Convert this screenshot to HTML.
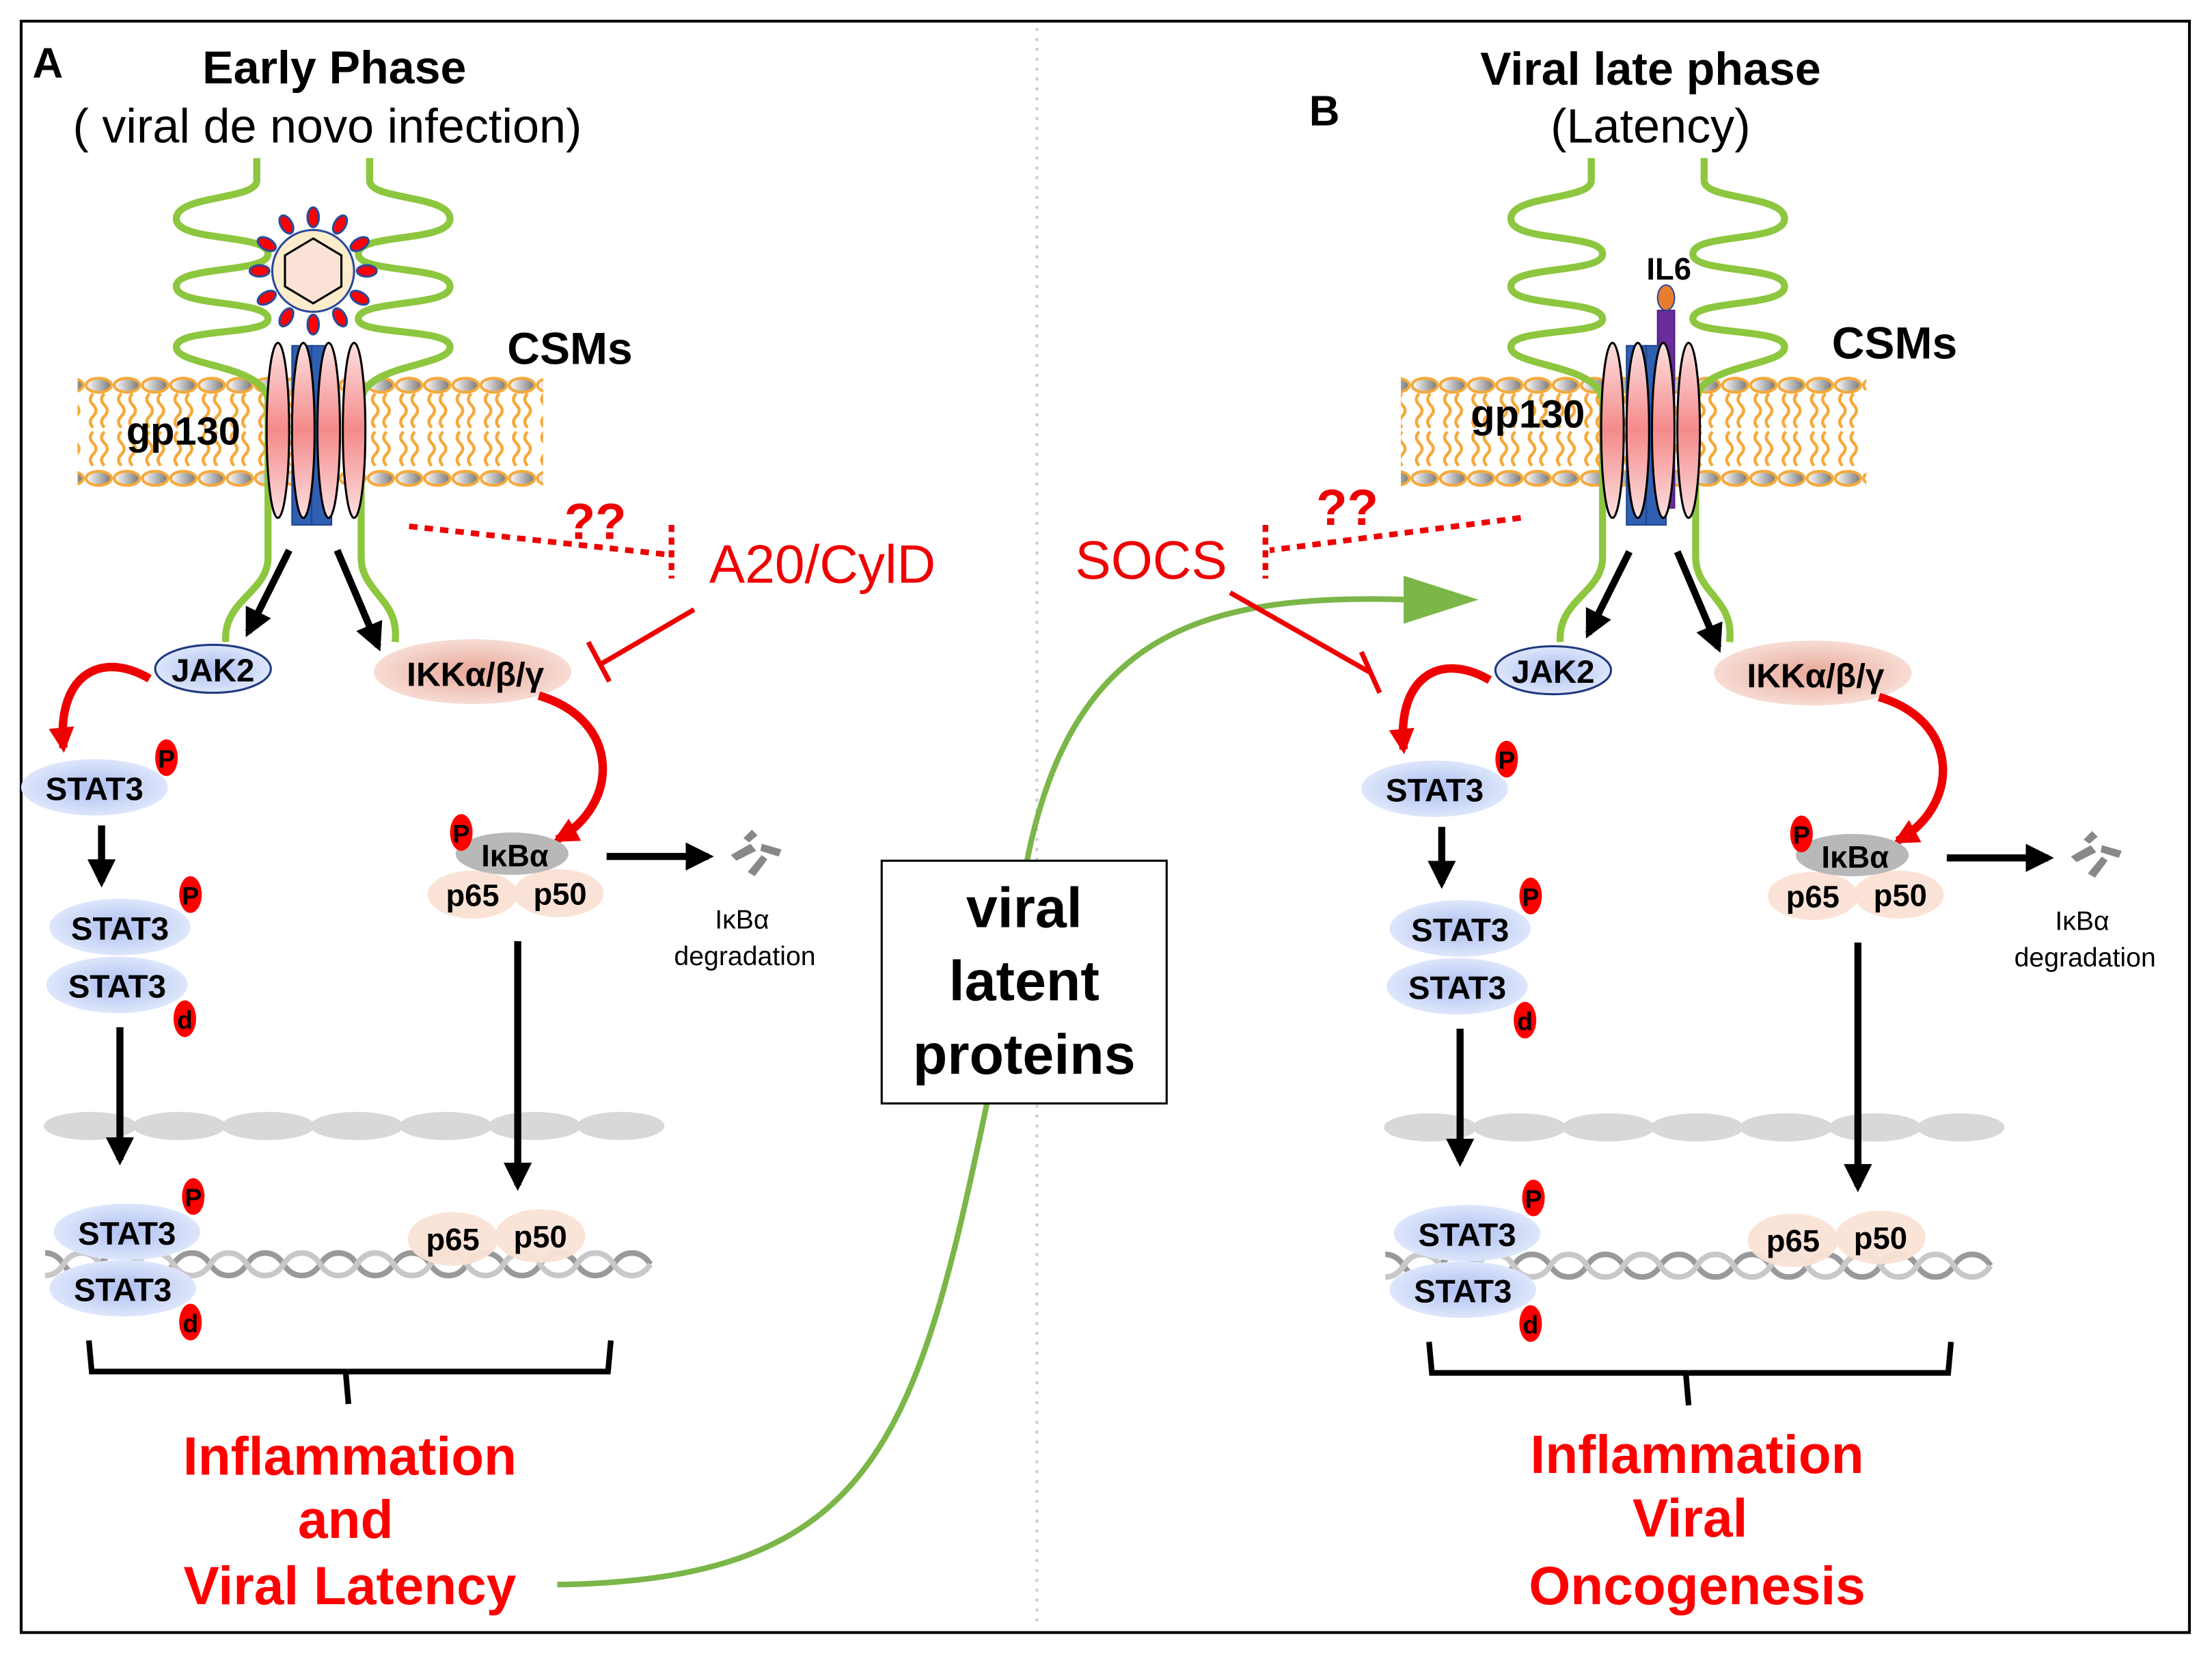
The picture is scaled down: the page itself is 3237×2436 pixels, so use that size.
<!DOCTYPE html>
<html><head><meta charset="utf-8"><style>html,body{margin:0;padding:0;background:#fff}svg{display:block}</style></head>
<body>
<svg width="3237" height="2436" viewBox="0 0 1568 1180" xmlns="http://www.w3.org/2000/svg" font-family="Liberation Sans, Arial, sans-serif">
<defs>
<linearGradient id="head" x1="0" x2="1"><stop offset="0" stop-color="#fff"/><stop offset="1" stop-color="#777"/></linearGradient>
<pattern id="mem" x="0" y="266" width="20" height="80" patternUnits="userSpaceOnUse">
<ellipse cx="10" cy="7" rx="9" ry="5" fill="url(#head)" stroke="#f5a93a" stroke-width="2"/>
<ellipse cx="10" cy="73" rx="9" ry="5" fill="url(#head)" stroke="#f5a93a" stroke-width="2"/>
<path d="M6,13 q-4,4 0,8 q4,4 0,8 q-4,4 0,8 M14,13 q-4,4 0,8 q4,4 0,8 q-4,4 0,8 M6,40 q-4,4 0,8 q4,4 0,8 q-4,4 0,8 M14,40 q-4,4 0,8 q4,4 0,8 q-4,4 0,8" fill="none" stroke="#f5a93a" stroke-width="2.2"/>
</pattern>
<radialGradient id="blue"><stop offset="0" stop-color="#aebff0"/><stop offset="1" stop-color="#dde6fb"/></radialGradient>
<radialGradient id="pinkg"><stop offset="0" stop-color="#e8a898"/><stop offset="1" stop-color="#f7dcd4"/></radialGradient>
<linearGradient id="recp" y1="0" y2="1" x1="0" x2="0"><stop offset="0" stop-color="#fde0e0"/><stop offset="0.5" stop-color="#f48a8a"/><stop offset="1" stop-color="#fde0e0"/></linearGradient>
<marker id="ah" viewBox="0 0 10 10" refX="8" refY="5" markerWidth="4" markerHeight="4" orient="auto"><path d="M0,0 L10,5 L0,10 z" fill="#000"/></marker>
<marker id="rah" viewBox="0 0 10 10" refX="8" refY="5" markerWidth="3" markerHeight="3" orient="auto"><path d="M0,0 L10,5 L0,10 z" fill="#e00"/></marker>

<g id="receptor">
<rect x="207" y="245" width="14" height="127" fill="#2f5fb0" stroke="#1f4590"/>
<rect x="221" y="245" width="14" height="127" fill="#2f5fb0" stroke="#1f4590"/>
<ellipse cx="197" cy="305" rx="8" ry="62" fill="url(#recp)" stroke="#000" stroke-width="1.5"/>
<ellipse cx="215" cy="305" rx="8" ry="62" fill="url(#recp)" stroke="#000" stroke-width="1.5"/>
<ellipse cx="233" cy="305" rx="8" ry="62" fill="url(#recp)" stroke="#000" stroke-width="1.5"/>
<ellipse cx="251" cy="305" rx="8" ry="62" fill="url(#recp)" stroke="#000" stroke-width="1.5"/>
</g>
<g id="greens" fill="none" stroke="#8dc63f" stroke-width="5">
<path d="M182,112 L182,128 C182,142 125,138 125,155 C125,172 190,165 190,180 C190,194 125,188 125,203 C125,218 190,212 190,226 C190,238 125,232 125,246 C125,260 190,258 190,285 L190,395 C190,420 158,425 160,455"/>
<path d="M262,112 L262,128 C262,142 319,138 319,155 C319,172 254,165 254,180 C254,194 319,188 319,203 C319,218 254,212 254,226 C254,238 319,232 319,246 C319,260 256,258 256,285 L256,395 C256,420 284,425 280,455"/>
</g>

<g id="pmark"><ellipse cx="0" cy="0" rx="8" ry="13" fill="#f00"/><text x="0" y="7" font-size="18" font-weight="bold" text-anchor="middle">P</text></g>
<g id="dmark"><ellipse cx="0" cy="0" rx="8" ry="13" fill="#f00"/><text x="0" y="7" font-size="18" font-weight="bold" text-anchor="middle">d</text></g>

<g id="lower">
<line x1="205" y1="390" x2="176" y2="448" stroke="#000" stroke-width="5" marker-end="url(#ah)"/>
<line x1="239" y1="390" x2="268" y2="458" stroke="#000" stroke-width="5" marker-end="url(#ah)"/>
<ellipse cx="151" cy="474" rx="41" ry="17" fill="url(#blue)" stroke="#203a80" stroke-width="1.5"/>
<text x="151" y="483" font-size="23" font-weight="bold" text-anchor="middle">JAK2</text>
<ellipse cx="335" cy="476" rx="70" ry="23" fill="url(#pinkg)"/>
<text x="337" y="486" font-size="24" font-weight="bold" text-anchor="middle">IKKα/β/γ</text>
<path d="M106,481 C70,460 40,480 45,530" fill="none" stroke="#e00" stroke-width="6" marker-end="url(#rah)"/>
<path d="M382,493 C440,510 440,570 395,595" fill="none" stroke="#e00" stroke-width="6" marker-end="url(#rah)"/>
<ellipse cx="67" cy="558" rx="52" ry="20" fill="url(#blue)"/>
<text x="67" y="567" font-size="23" font-weight="bold" text-anchor="middle">STAT3</text>
<use href="#pmark" x="118" y="537"/>
<line x1="72" y1="585" x2="72" y2="625" stroke="#000" stroke-width="5" marker-end="url(#ah)"/>
<ellipse cx="85" cy="657" rx="50" ry="20" fill="url(#blue)"/>
<text x="85" y="666" font-size="23" font-weight="bold" text-anchor="middle">STAT3</text>
<ellipse cx="83" cy="698" rx="50" ry="20" fill="url(#blue)"/>
<text x="83" y="707" font-size="23" font-weight="bold" text-anchor="middle">STAT3</text>
<use href="#pmark" x="135" y="634"/>
<use href="#dmark" x="131" y="722"/>
<g fill="#d8d8d8">
<ellipse cx="64" cy="798" rx="33" ry="10"/><ellipse cx="127" cy="798" rx="33" ry="10"/><ellipse cx="190" cy="798" rx="33" ry="10"/><ellipse cx="253" cy="798" rx="33" ry="10"/><ellipse cx="316" cy="798" rx="33" ry="10"/><ellipse cx="379" cy="798" rx="33" ry="10"/><ellipse cx="440" cy="798" rx="31" ry="10"/>
</g>
<line x1="85" y1="728" x2="85" y2="822" stroke="#000" stroke-width="5" marker-end="url(#ah)"/>
<ellipse cx="335" cy="634" rx="32" ry="17" fill="#fae3d6"/>
<ellipse cx="396" cy="633" rx="32" ry="17" fill="#fae3d6"/>
<ellipse cx="363" cy="605" rx="40" ry="15" fill="#b8b8b8"/>
<text x="365" y="614" font-size="22" font-weight="bold" text-anchor="middle">IκBα</text>
<text x="335" y="642" font-size="22" font-weight="bold" text-anchor="middle">p65</text>
<text x="397" y="641" font-size="22" font-weight="bold" text-anchor="middle">p50</text>
<use href="#pmark" x="327" y="590"/>
<line x1="430" y1="607" x2="502" y2="607" stroke="#000" stroke-width="5" marker-end="url(#ah)"/>
<g fill="#888"><path d="M518,606 l14,-8 l4,5 l-14,7z"/><path d="M530,618 l10,-12 l4,3 l-9,12z"/><path d="M540,598 l14,4 l-2,5 l-13,-4z"/><path d="M527,594 l6,-6 l4,4 l-6,5z"/></g>
<text x="526" y="658" font-size="19" text-anchor="middle">IκBα</text>
<text x="528" y="684" font-size="19" text-anchor="middle">degradation</text>
<line x1="367" y1="667" x2="367" y2="840" stroke="#000" stroke-width="5" marker-end="url(#ah)"/>
<g stroke="#999" stroke-width="4" fill="none">
<path d="M32,888 q8,0 13,8 t13,8 13,-8 13,-8 13,8 13,8 13,-8 13,-8 13,8 13,8 13,-8 13,-8 13,8 13,8 13,-8 13,-8 13,8 13,8 13,-8 13,-8 13,8 13,8 13,-8 13,-8 13,8 13,8 13,-8 13,-8 13,8 13,8 13,-8 13,-8 13,8"/>
<path d="M32,904 q8,0 13,-8 t13,-8 13,8 13,8 13,-8 13,-8 13,8 13,8 13,-8 13,-8 13,8 13,8 13,-8 13,-8 13,8 13,8 13,-8 13,-8 13,8 13,8 13,-8 13,-8 13,8 13,8 13,-8 13,-8 13,8 13,8 13,-8 13,-8 13,8 13,8 13,-8" stroke="#c8c8c8"/>
</g>
<ellipse cx="90" cy="873" rx="52" ry="20" fill="url(#blue)"/>
<text x="90" y="882" font-size="23" font-weight="bold" text-anchor="middle">STAT3</text>
<ellipse cx="87" cy="913" rx="52" ry="20" fill="url(#blue)"/>
<text x="87" y="922" font-size="23" font-weight="bold" text-anchor="middle">STAT3</text>
<use href="#pmark" x="137" y="848"/>
<use href="#dmark" x="135" y="937"/>
<ellipse cx="321" cy="878" rx="32" ry="19" fill="#fae3d6" opacity="0.95"/>
<ellipse cx="383" cy="876" rx="32" ry="19" fill="#fae3d6" opacity="0.95"/>
<text x="321" y="886" font-size="22" font-weight="bold" text-anchor="middle">p65</text>
<text x="383" y="884" font-size="22" font-weight="bold" text-anchor="middle">p50</text>
<path d="M63,950 L65,972 L245,972 L247,995 M247,972 L431,972 L433,950" fill="none" stroke="#000" stroke-width="4"/>
</g>
</defs>

<rect width="1568" height="1180" fill="#fff"/>
<rect x="15" y="15" width="1537" height="1142" fill="none" stroke="#000" stroke-width="2"/>
<line x1="735" y1="20" x2="735" y2="1152" stroke="#ccc" stroke-width="2" stroke-dasharray="2,5"/>

<text x="23" y="55" font-size="30" font-weight="bold">A</text>
<text x="237" y="59" font-size="33" font-weight="bold" text-anchor="middle">Early Phase</text>
<text x="232" y="101" font-size="34" text-anchor="middle">( viral de novo infection)</text>
<text x="928" y="89" font-size="30" font-weight="bold">B</text>
<text x="1170" y="60" font-size="33" font-weight="bold" text-anchor="middle">Viral late phase</text>
<text x="1170" y="101" font-size="34" text-anchor="middle">(Latency)</text>

<rect x="55" y="266" width="330" height="80" fill="url(#mem)"/>
<use href="#greens"/>
<use href="#receptor"/>
<text x="130" y="315" font-size="28" font-weight="bold" text-anchor="middle">gp130</text>
<text x="404" y="258" font-size="32" font-weight="bold" text-anchor="middle">CSMs</text>
<g transform="translate(222,192)">
<g fill="#f00" stroke="#2a4a9a" stroke-width="1.5">
<g id="sp"><ellipse cx="0" cy="-38" rx="4" ry="7"/></g>
<use href="#sp" transform="rotate(30)"/><use href="#sp" transform="rotate(60)"/><use href="#sp" transform="rotate(90)"/><use href="#sp" transform="rotate(120)"/><use href="#sp" transform="rotate(150)"/><use href="#sp" transform="rotate(180)"/><use href="#sp" transform="rotate(210)"/><use href="#sp" transform="rotate(240)"/><use href="#sp" transform="rotate(270)"/><use href="#sp" transform="rotate(300)"/><use href="#sp" transform="rotate(330)"/>
</g>
<circle r="29" fill="#fbeccc" stroke="#2a4a9a" stroke-width="1.5"/>
<polygon points="0,-23 20,-11 20,11 0,23 -20,11 -20,-11" fill="#fae3d6" stroke="#000" stroke-width="1.5"/>
</g>
<use href="#lower"/>

<rect x="993" y="266" width="330" height="80" fill="url(#mem)"/>
<g transform="translate(946,0)">
<use href="#greens"/>
<rect x="229" y="220" width="12" height="140" fill="#6a2c9a" stroke="#4a2080"/>
<ellipse cx="235" cy="211" rx="6" ry="9" fill="#e87d30" stroke="#2a4a9a"/>
<use href="#receptor"/>
</g>
<text x="1183" y="198" font-size="22" font-weight="bold" text-anchor="middle">IL6</text>
<text x="1083" y="303" font-size="28" font-weight="bold" text-anchor="middle">gp130</text>
<text x="1343" y="254" font-size="32" font-weight="bold" text-anchor="middle">CSMs</text>
<use href="#lower" transform="translate(950,1)"/>

<text x="422" y="382" font-size="36" font-weight="bold" fill="#e00" text-anchor="middle">??</text>
<path d="M290,373 L473,393" stroke="#e00" stroke-width="4" stroke-dasharray="6,5" fill="none"/>
<line x1="476" y1="372" x2="476" y2="410" stroke="#e00" stroke-width="4" stroke-dasharray="5,4"/>
<text x="583" y="413" font-size="38" fill="#e00" text-anchor="middle">A20/CylD</text>
<line x1="492" y1="432" x2="427" y2="470" stroke="#e00" stroke-width="3.5"/>
<line x1="417" y1="455" x2="432" y2="483" stroke="#e00" stroke-width="3.5"/>

<path d="M395,1123 C620,1120 650,1020 700,780 L728,610 C760,450 850,420 1000,425" fill="none" stroke="#7ab648" stroke-width="4"/>
<polygon points="995,408 1048,425 995,442" fill="#7ab648"/>

<text x="816" y="410" font-size="38" fill="#e00" text-anchor="middle">SOCS</text>
<text x="955" y="372" font-size="36" font-weight="bold" fill="#e00" text-anchor="middle">??</text>
<path d="M1078,367 L900,390" stroke="#e00" stroke-width="4" stroke-dasharray="6,5" fill="none"/>
<line x1="897" y1="372" x2="897" y2="410" stroke="#e00" stroke-width="4" stroke-dasharray="5,4"/>
<line x1="872" y1="420" x2="972" y2="477" stroke="#e00" stroke-width="3.5"/>
<line x1="965" y1="462" x2="978" y2="491" stroke="#e00" stroke-width="3.5"/>

<rect x="625" y="610" width="202" height="172" fill="#fff" stroke="#000" stroke-width="1.5"/>
<text x="726" y="657" font-size="40" font-weight="bold" text-anchor="middle">viral</text>
<text x="726" y="709" font-size="40" font-weight="bold" text-anchor="middle">latent</text>
<text x="726" y="761" font-size="40" font-weight="bold" text-anchor="middle">proteins</text>

<g font-size="38" font-weight="bold" fill="#f00" text-anchor="middle">
<text x="248" y="1045">Inflammation</text>
<text x="245" y="1090">and</text>
<text x="248" y="1137">Viral Latency</text>
<text x="1203" y="1044">Inflammation</text>
<text x="1198" y="1089">Viral</text>
<text x="1203" y="1137">Oncogenesis</text>
</g>
</svg>
</body></html>
